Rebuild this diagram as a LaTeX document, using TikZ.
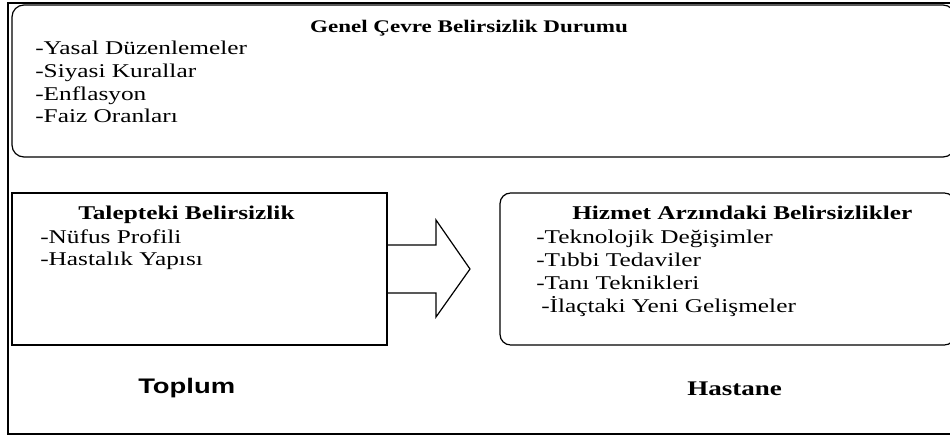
\documentclass[tikz,border=0pt]{standalone}
\usepackage{fontspec}
\setmainfont{Liberation Serif}[FakeStretch=1.3]
\newfontfamily\sansbold{Liberation Sans}[FakeStretch=1.3]
\begin{document}
\begin{tikzpicture}[x=0.75pt,y=-0.75pt,
  frame/.style={line width=1.9pt},
  boxline/.style={draw, line width=0.9pt, inner sep=0pt, outer sep=0pt, anchor=north west},
  item/.style={anchor=base west, inner sep=0pt, font=\fontsize{14.6pt}{17pt}\selectfont},
  head/.style={item, font=\fontsize{14.6pt}{17pt}\selectfont\bfseries}]
\useasboundingbox (0,0) rectangle (950,439);
\clip (0,0) rectangle (950,439);
% outer frame
\draw[frame] (8,3) rectangle (965,434);
% boxes
\node[boxline, rounded corners=9pt, minimum width=707.25pt, minimum height=114pt] (env) at (12,5) {};
\node[boxline, minimum width=281.25pt, minimum height=114pt] (dem) at (12,193) {};
\node[boxline, rounded corners=8pt, minimum width=341.25pt, minimum height=114pt] (sup) at (500,193) {};
% block arrow
\draw[line width=0.9pt] ([yshift=18pt]dem.east) -- ++(49,0) -- ++(0,-25) -- ++(34,49)
  -- ++(-34,48) -- ++(0,-24) -- ++(-49,0);
% texts
\node[head, anchor=base, font=\fontsize{13.3pt}{16pt}\selectfont\bfseries] (envt) at (469,32) {Genel Çevre Belirsizlik Durumu};
\node[item] (e1) at (35,55) {-Yasal Düzenlemeler};
\node[item] (e2) at (35,77.5) {-Siyasi Kurallar};
\node[item] (e3) at (35,100) {-Enflasyon};
\node[item] (e4) at (35,122.5) {-Faiz Oranları};
\node[head] (demt) at (78,219) {Talepteki Belirsizlik};
\node[item] (d1) at (40,243) {-Nüfus Profili};
\node[item] (d2) at (40,265) {-Hastalık Yapısı};
\node[head] (supt) at (572,219) {Hizmet Arzındaki Belirsizlikler};
\node[item] (s1) at (536,243) {-Teknolojik Değişimler};
\node[item] (s2) at (536,266) {-Tıbbi Tedaviler};
\node[item] (s3) at (536,289) {-Tanı Teknikleri};
\node[item] (s4) at (541,312) {-İlaçtaki Yeni Gelişmeler};
\node[anchor=base west, inner sep=0pt, font=\fontsize{15.8pt}{18pt}\sansbold\bfseries] (top) at (138,393) {Toplum};
\node[head, font=\fontsize{15.6pt}{18pt}\selectfont\bfseries] (hos) at (687,395) {Hastane};
\end{tikzpicture}
\end{document}
